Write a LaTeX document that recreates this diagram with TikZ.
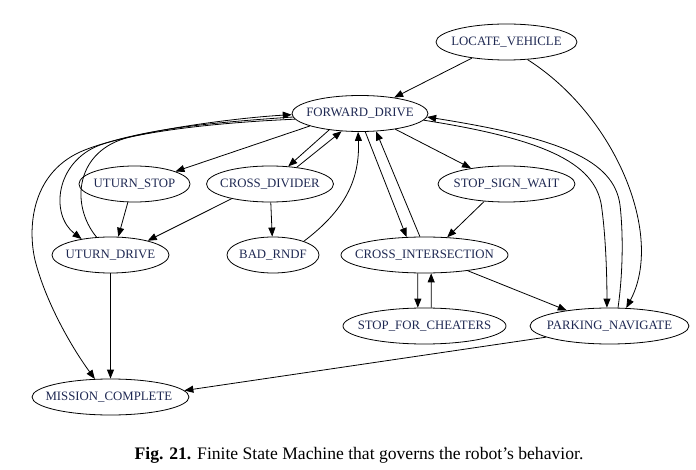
\documentclass[tikz,border=0pt]{standalone}
\usepackage{fontspec}
\setmainfont{Liberation Serif}
\usepackage{xcolor}
\usepackage{tikz}
\usetikzlibrary{arrows.meta,shapes.geometric}
\definecolor{LabelInk}{RGB}{30,40,82}

\tikzset{
  state/.style={ellipse,draw,line width=0.8pt,minimum height=36pt,inner sep=0pt,
    text=LabelInk,font=\fontsize{12.8}{14}\selectfont},
  trans/.style={-{Triangle[length=9pt,width=7pt]},line width=0.8pt}
}

\begin{document}
\begin{tikzpicture}[x=1pt,y=-1pt]
\useasboundingbox (0,0) rectangle (696,470);
% states
\foreach \n/\x/\y/\w/\t in {
  lv/506.5/42/141/LOCATE\_VEHICLE,
  fd/360/113.5/136/FORWARD\_DRIVE,
  us/134.5/184/111/UTURN\_STOP,
  cd/270/184/127/CROSS\_DIVIDER,
  ssw/506.5/184/137/STOP\_SIGN\_WAIT,
  ud/110.5/255/117/UTURN\_DRIVE,
  br/273/255/92/BAD\_RNDF,
  ci/424.5/255/167/CROSS\_INTERSECTION,
  sfc/424.5/326/163/STOP\_FOR\_CHEATERS,
  pn/609.5/326/159/PARKING\_NAVIGATE,
  mc/110.5/397/157/MISSION\_COMPLETE
}{
  \node[state,minimum width=\w pt] (\n) at (\x,\y) {\makebox[0pt]{\t}};
}
% straight transitions
\foreach \a/\b in {lv.205/fd.25, fd.194/us.17, fd.208/cd.44, cd.32/fd.224,
  fd.336/ssw.156, fd.286/ci.135, ci.104/fd.312, us.250/ud.67, cd.201/ud.21,
  cd/br, ssw.218/ci.38, ci.250/sfc.110, sfc.70/ci.290, ci.340/pn.160,
  pn.190/mc.5, ud/mc}{
  \draw[trans] (\a) -- (\b);
}
% curved transitions
\draw[trans] (lv.320) .. controls (615,115) and (665,235) .. (pn.47);
\draw[trans] (fd.354) .. controls (550,140) and (598,165) .. (602,210)
  .. controls (606,240) and (607,280) .. (pn.98);
\draw[trans] (pn.65) .. controls (622,280) and (624,240) .. (620,205)
  .. controls (614,160) and (560,138) .. (fd.357);
\draw[trans] (br.24) .. controls (345,210) and (360,180) .. (fd.264);
\draw[trans] (fd.183) .. controls (220,122) and (150,128) .. (100,145)
  .. controls (55,162) and (50,215) .. (ud.151);
\draw[trans] (ud.128) .. controls (70,205) and (75,150) .. (130,137)
  .. controls (180,125) and (250,117) .. (fd.181);
\draw[trans] (fd.185) .. controls (230,122) and (130,130) .. (80,152)
  .. controls (30,175) and (28,230) .. (35,260)
  .. controls (45,300) and (70,345) .. (mc.131);
% caption
\node[anchor=base,font=\fontsize{17.6}{20}\selectfont] (cap) at (359,459)
  {\textbf{Fig. 21.} Finite State Machine that governs the robot’s behavior.};
\end{tikzpicture}
\end{document}
